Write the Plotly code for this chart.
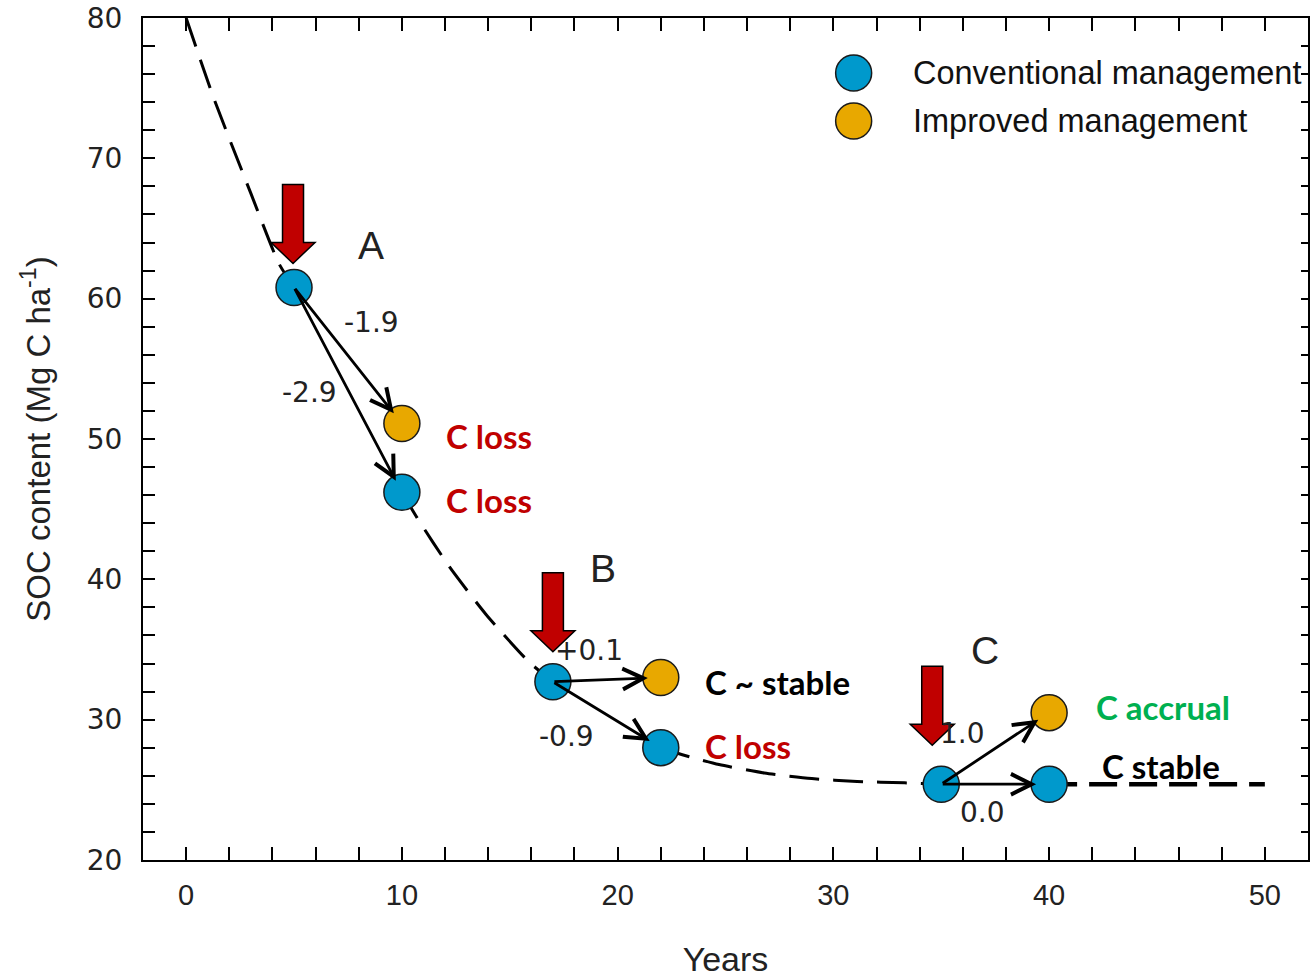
import plotly.graph_objects as go

# ---------------- data ----------------
curve_years = [0, 1.3, 3.0, 4.3, 5, None, 10, 10.7, 12.2, 13.9, 15.9, 17, None,
               22, 23.0, 24.7, 26.8, 29.0, 31.1, 33.3, 35]
curve_soc = [80, 74.2, 67.5, 62.5, 60.8, None, 46.2, 44.4, 40.9, 37.5, 34.1, 32.7, None,
             28.0, 27.5, 26.8, 26.2, 25.8, 25.6, 25.5, 25.4]
tail_years = [40, 50]
tail_soc = [25.4, 25.4]

conv_years = [5, 10, 17, 22, 35, 40]
conv_soc = [60.8, 46.2, 32.7, 28.0, 25.4, 25.4]
impr_years = [10, 22, 40]
impr_soc = [51.1, 33.0, 30.5]

# transitions: (from_year, from_soc, to_year, to_soc)
transitions = [
    (5, 60.8, 10, 51.1),
    (5, 60.8, 10, 46.2),
    (17, 32.7, 22, 33.0),
    (17, 32.7, 22, 28.0),
    (35, 25.4, 40, 30.5),
    (35, 25.4, 40, 25.4),
]
rate_labels = ["-1.9", "-2.9", "+0.1", "-0.9", "1.0", "0.0"]
scenario_labels = ["A", "B", "C"]
intervention_years = [5, 17, 35]
intervention_soc = [60.8, 32.7, 25.4]
outcome_labels = ["C loss", "C loss", "C ~ stable", "C loss", "C accrual", "C stable"]
legend_names = ["Conventional management", "Improved management"]
x_ticks = [0, 10, 20, 30, 40, 50]
y_ticks = [20, 30, 40, 50, 60, 70, 80]

BLUE = "#0099CC"
ORANGE = "#E8A800"
DARKRED = "#C00000"
GREEN = "#00B050"
FONT = "Liberation Sans, Arial, sans-serif"
WIDEFONT = "DejaVu Sans, sans-serif"
BOLDFONT = "Lato, Open Sans, sans-serif"
TXT = "#222222"

fig = go.Figure()

fig.add_trace(go.Scatter(x=curve_years, y=curve_soc, mode="lines",
                         line=dict(color="black", width=3, dash="30px,14px", shape="spline", smoothing=0.6),
                         connectgaps=False, showlegend=False, hoverinfo="skip"))
fig.add_trace(go.Scatter(x=tail_years, y=tail_soc, mode="lines",
                         line=dict(color="black", width=4.5, dash="28px,12px"),
                         showlegend=False, hoverinfo="skip"))
fig.add_trace(go.Scatter(x=conv_years, y=conv_soc, mode="markers", name=legend_names[0],
                         marker=dict(size=36, color=BLUE, line=dict(color="#1a1a1a", width=1.5)),
                         showlegend=False))
fig.add_trace(go.Scatter(x=impr_years, y=impr_soc, mode="markers", name=legend_names[1],
                         marker=dict(size=36, color=ORANGE, line=dict(color="#1a1a1a", width=1.5)),
                         showlegend=False))
# invisible trace to activate right-side tick axis
fig.add_trace(go.Scatter(x=tail_years, y=tail_soc, yaxis="y2", mode="lines",
                         line=dict(width=0, color="rgba(0,0,0,0)"), showlegend=False, hoverinfo="skip"))

annotations = []
# black transition arrows
for (x0, y0, x1, y1) in transitions:
    annotations.append(dict(x=x1, y=y1, ax=x0, ay=y0, xref="x", yref="y", axref="x", ayref="y",
                            text="", showarrow=True, arrowhead=5, arrowsize=1.45, arrowwidth=2.8,
                            arrowcolor="black", standoff=13))

# rate labels positions (layout)
rate_pos = [(8.59, 58.3), (5.72, 53.3), (18.65, 34.9), (17.64, 28.8), (36.0, 29.05), (36.9, 23.35)]
for lab, (x, y) in zip(rate_labels, rate_pos):
    annotations.append(dict(x=x, y=y, xref="x", yref="y", text=lab, showarrow=False,
                            font=dict(family=WIDEFONT, size=28, color=TXT)))

letter_pos = [(8.59, 63.8), (19.34, 40.8), (37.03, 34.9)]
for lab, (x, y) in zip(scenario_labels, letter_pos):
    annotations.append(dict(x=x, y=y, xref="x", yref="y", text=lab, showarrow=False,
                            font=dict(family=FONT, size=39, color=TXT)))

outcome_pos = [(11.96, 50.2), (11.96, 45.65), (23.96, 32.68), (23.96, 28.12), (42.06, 30.9), (42.34, 26.7)]
outcome_colors = [DARKRED, DARKRED, "black", DARKRED, GREEN, "black"]
for lab, (x, y), c in zip(outcome_labels, outcome_pos, outcome_colors):
    annotations.append(dict(x=x, y=y, xref="x", yref="y", text="<b>" + lab + "</b>", showarrow=False,
                            xanchor="left", yanchor="middle", font=dict(family=BOLDFONT, size=33, color=c)))

# manual legend
legend_y = [0.9347, 0.8777]
shapes = []
for name, col, ly in zip(legend_names, [BLUE, ORANGE], legend_y):
    shapes.append(dict(type="circle", xref="paper", yref="paper", xsizemode="pixel", ysizemode="pixel",
                       xanchor=0.610, yanchor=ly, x0=-18, x1=18, y0=-18, y1=18,
                       fillcolor=col, line=dict(color="#1a1a1a", width=1.5)))
    annotations.append(dict(x=0.659, y=ly, xref="paper", yref="paper", text=name, showarrow=False,
                            xanchor="left", yanchor="middle", font=dict(family=FONT, size=32.5, color="#111111")))

# red intervention block arrows (tip offset in pixels above each intervention point)
arrow_dx = [-1, 0, -9]
arrow_dy = [24, 30, 39]
for xa, ya, dx, dy in zip(intervention_years, intervention_soc, arrow_dx, arrow_dy):
    t = dy
    path = (f"M {dx},{t} L {dx-22},{t+21} L {dx-10.5},{t+21} L {dx-10.5},{t+79} "
            f"L {dx+10.5},{t+79} L {dx+10.5},{t+21} L {dx+22},{t+21} Z")
    shapes.append(dict(type="path", xref="x", yref="y", xsizemode="pixel", ysizemode="pixel",
                       xanchor=xa, yanchor=ya, path=path, fillcolor=DARKRED,
                       line=dict(color="black", width=1.5), layer="above"))

fig.update_layout(
    width=1312, height=978,
    margin=dict(l=143, r=2, t=18, b=118),
    plot_bgcolor="white", paper_bgcolor="white",
    annotations=annotations, shapes=shapes,
    showlegend=False,
)

fig.update_xaxes(range=[-2, 52], tickvals=x_ticks, ticks="inside", ticklen=13, tickwidth=1.5,
                 tickcolor="black", showline=True, linecolor="black", linewidth=2, mirror="allticks",
                 showgrid=False, zeroline=False,
                 minor=dict(dtick=2, tick0=0, ticks="inside", ticklen=7, tickwidth=1.5, tickcolor="black", showgrid=False),
                 tickfont=dict(family=FONT, size=29, color=TXT), ticklabelstandoff=8,
                 title=dict(text="Years", font=dict(family=FONT, size=34, color=TXT), standoff=38))
fig.update_layout(
    yaxis=dict(range=[20, 80], tickvals=y_ticks, ticks="inside", ticklen=12, tickwidth=1.5,
               tickcolor="black", showline=True, linecolor="black", linewidth=2, mirror=True,
               showgrid=False, zeroline=False,
               minor=dict(dtick=2, tick0=0, ticks="inside", ticklen=12, tickwidth=1.5, tickcolor="black", showgrid=False),
               tickfont=dict(family=WIDEFONT, size=28, color=TXT), ticklabelstandoff=13,
               title=dict(text="SOC content (Mg C ha<sup>-1</sup>)",
                          font=dict(family=FONT, size=33, color=TXT), standoff=26)),
    yaxis2=dict(range=[20, 80], overlaying="y", side="right", showline=False, showticklabels=False,
                tickvals=y_ticks, ticks="inside", ticklen=7, tickwidth=1.5, tickcolor="black",
                showgrid=False, zeroline=False,
                minor=dict(dtick=2, tick0=0, ticks="inside", ticklen=7, tickwidth=1.5, tickcolor="black", showgrid=False)),
)

fig.write_html("out.html")
